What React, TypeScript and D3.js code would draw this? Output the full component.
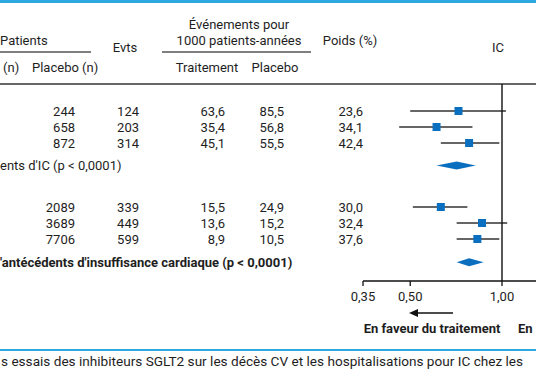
import React from "react";
import * as d3 from "d3";

const placeboN = [244, 658, 872, 2089, 3689, 7706];
const events = [124, 203, 314, 339, 449, 599];
const rateTreatment = [63.6, 35.4, 45.1, 15.5, 13.6, 8.9];
const ratePlacebo = [85.5, 56.8, 55.5, 24.9, 15.2, 10.5];
const weights = [23.6, 34.1, 42.4, 30.0, 32.4, 37.6];
const hr = [0.72, 0.61, 0.78, 0.63, 0.86, 0.83];
const hrLow = [0.5, 0.46, 0.63, 0.51, 0.71, 0.71];
const hrHigh = [1.03, 0.8, 0.98, 0.77, 1.04, 0.98];
const rowSlots = [0, 1, 2, 6, 7, 8];
const summaryHr = [0.71, 0.78];
const summaryLow = [0.61, 0.71];
const summaryHigh = [0.82, 0.87];
const summarySlots = [3.4, 9.45];
const summaryLabels = [
  "ents d'IC (p < 0,0001)",
  "'antécédents d'insuffisance cardiaque (p < 0,0001)",
];
const axisTicks = [0.35, 0.5, 1.0];

const W = 536;
const H = 386;
const BLUE = "#0b6fbf";
const LINE_BLUE = "#2ea8e0";
const TXT = "#1e1e1e";
const FONT = "Roboto, 'DejaVu Sans', sans-serif";

const fmt = (v: number) => d3.format(".1f")(v).replace(".", ",");
const fmtTick = (v: number) => d3.format(".2f")(v).replace(".", ",");

export default function App() {
  const x = d3.scaleLog().domain([0.35, 1]).range([363, 502]);
  const y = d3.scaleLinear().domain([0, 1]).range([111, 127]);
  const axisY = 281;
  const sq = 8;
  const dh = 4;

  return (
    <svg
      width={W}
      height={H}
      style={{ position: "absolute", left: 0, top: 0, background: "#fff" }}
      fontFamily={FONT}
      fontSize={13}
      fill={TXT}
    >
      <rect x={0} y={0} width={W} height={H} fill="#fff" />
      {/* top and bottom blue rules */}
      <rect x={0} y={0} width={W} height={3} fill={LINE_BLUE} />
      <rect x={0} y={349} width={W} height={2} fill={LINE_BLUE} />

      {/* headers */}
      <text x={0} y={45}>Patients</text>
      <line x1={0} x2={91} y1={52} y2={52} stroke="#555" strokeWidth={1.3} />
      <text x={3} y={72}>(n)</text>
      <text x={32} y={72}>Placebo (n)</text>
      <text x={125} y={52} textAnchor="middle">Evts</text>
      <text x={239} y={29} textAnchor="middle">Événements pour</text>
      <text x={239} y={45} textAnchor="middle">1000 patients-années</text>
      <line x1={162} x2={311} y1={52} y2={52} stroke="#555" strokeWidth={1.3} />
      <text x={207} y={72} textAnchor="middle">Traitement</text>
      <text x={275} y={72} textAnchor="middle">Placebo</text>
      <text x={350} y={45} textAnchor="middle">Poids (%)</text>
      <text x={498} y={52} textAnchor="middle">IC</text>
      <line x1={0} x2={W} y1={84} y2={84} stroke="#333" strokeWidth={1.3} />

      {/* data rows */}
      {rowSlots.map((s, i) => {
        const yy = y(s);
        return (
          <g key={i}>
            <text x={75} y={yy + 4.5} textAnchor="end">{placeboN[i]}</text>
            <text x={139} y={yy + 4.5} textAnchor="end">{events[i]}</text>
            <text x={225} y={yy + 4.5} textAnchor="end">{fmt(rateTreatment[i])}</text>
            <text x={284} y={yy + 4.5} textAnchor="end">{fmt(ratePlacebo[i])}</text>
            <text x={363} y={yy + 4.5} textAnchor="end">{fmt(weights[i])}</text>
            <line
              x1={x(hrLow[i])}
              x2={x(hrHigh[i])}
              y1={yy}
              y2={yy}
              stroke="#333"
              strokeWidth={1.4}
            />
            <rect
              x={x(hr[i]) - sq / 2}
              y={yy - sq / 2}
              width={sq}
              height={sq}
              fill={BLUE}
            />
          </g>
        );
      })}

      {/* summaries */}
      {summarySlots.map((s, i) => {
        const yy = y(s);
        const pts = [
          [x(summaryLow[i]), yy],
          [x(summaryHr[i]), yy - dh],
          [x(summaryHigh[i]), yy],
          [x(summaryHr[i]), yy + dh],
        ];
        return (
          <g key={"s" + i}>
            <text x={0} y={yy + 4.5} fontWeight={i === 1 ? "bold" : "normal"}>
              {summaryLabels[i]}
            </text>
            <polygon points={pts.map((p) => p.join(",")).join(" ")} fill={BLUE} />
          </g>
        );
      })}

      {/* reference line at 1 */}
      <line x1={x(1)} x2={x(1)} y1={84} y2={axisY} stroke="#111" strokeWidth={1.4} />

      {/* axis */}
      <line x1={x(0.35)} x2={W} y1={axisY} y2={axisY} stroke="#111" strokeWidth={1.3} />
      {axisTicks.map((t) => (
        <g key={t}>
          <line x1={x(t)} x2={x(t)} y1={axisY} y2={axisY + 5} stroke="#111" strokeWidth={1.3} />
          <text x={x(t)} y={axisY + 20} textAnchor="middle">{fmtTick(t)}</text>
        </g>
      ))}

      {/* arrow */}
      <line x1={453} x2={416} y1={313} y2={313} stroke="#111" strokeWidth={1.5} />
      <polygon points="409,313 418,309 418,317" fill="#111" />
      <text x={432} y={333} textAnchor="middle" fontWeight="bold">En faveur du traitement</text>
      <text x={518} y={333} fontWeight="bold">En</text>

      {/* caption */}
      <text x={1} y={366} fontSize={13.6}>
        s essais des inhibiteurs SGLT2 sur les décès CV et les hospitalisations pour IC chez les
      </text>
    </svg>
  );
}
